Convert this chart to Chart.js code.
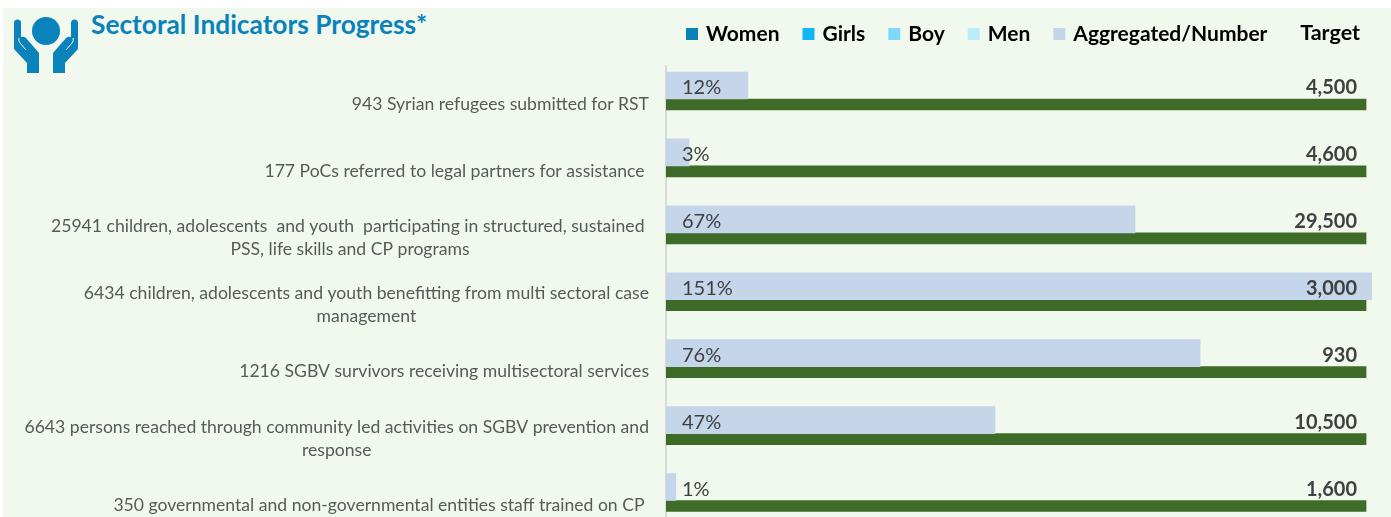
<!DOCTYPE html>
<html>
<head>
<meta charset="utf-8">
<script src="https://cdn.jsdelivr.net/npm/chart.js@4"></script>
<style>
  html, body { margin: 0; height: 517px; overflow: hidden; background: #fff; }
  #panel { position: absolute; left: 3px; top: 8px; width: 1388px; height: 509px; background: #f1f9ef; }
  #icon { position: absolute; left: 0; top: 0; }
  #title { position: absolute; left: 91px; top: 8px; font: bold 26.3px Lato, sans-serif; color: #0a82bb; white-space: nowrap; }
  canvas { position: absolute; left: 0; top: 0; }
</style>
</head>
<body>
<div id="panel"></div>
<svg id="icon" width="92" height="80" viewBox="0 0 92 80">
  <circle cx="46" cy="31" r="14" fill="#0a82bb"/>
  <g id="hand">
    <path d="M14 23a3.5 3.5 0 0 1 7 0V37Q24 36 26 38L39 53V73H27V63L14 49Z" fill="#0a82bb"/>
    <path d="M19 38Q18 41 20 43L26 50" stroke="#f1f9ef" stroke-width="1" fill="none"/>
  </g>
  <use href="#hand" transform="translate(92 0) scale(-1 1)"/>
</svg>
<div id="title">Sectoral Indicators Progress*</div>
<canvas id="indicatorChart" width="1391" height="534"></canvas>
<script>
const categories = [
  ['943 Syrian refugees submitted for RST'],
  ['177 PoCs referred to legal partners for assistance '],
  ['25941 children, adolescents  and youth  participating in structured, sustained ', 'PSS, life skills and CP programs'],
  ['6434 children, adolescents and youth benefitting from multi sectoral case', 'management'],
  ['1216 SGBV survivors receiving multisectoral services'],
  ['6643 persons reached through community led activities on SGBV prevention and', 'response'],
  ['350 governmental and non-governmental entities staff trained on CP ']
];
const progress = [11.7, 3.3, 67, 151, 76.3, 47, 1.4];
const targetShare = [100, 100, 100, 100, 100, 100, 100];
const targets = [4500, 4600, 29500, 3000, 930, 10500, 1600];
const emptySeries = ['Women', 'Girls', 'Boy', 'Men'];
const emptyColors = ['#0a82b8', '#0eb6f5', '#7fd8fb', '#bcebfb'];

// row labels, % labels and target numbers are placed from the scales
const rowText = {
  id: 'rowText',
  afterLayout(chart) {
    // legend sits beside the title, starting at the middle of the page
    chart.legend.left = 688.5 - chart.options.plugins.legend.labels.padding;
    chart.legend.top -= 11;
  },
  afterDatasetsDraw(chart) {
    const { ctx, scales: { y } } = chart;
    ctx.save();
    ctx.textBaseline = 'middle';
    categories.forEach((lines, i) => {
      const p = y.getPixelForValue(i);
      ctx.font = '17.6px Lato, sans-serif';
      ctx.fillStyle = '#595959';
      ctx.textAlign = 'center';
      const w = Math.max(...lines.map(l => ctx.measureText(l).width));
      lines.forEach((l, n) => {
        ctx.fillText(l, 649 - w / 2, p + 5 + (n - (lines.length - 1) / 2) * 23);
      });
      ctx.font = '20px Lato, sans-serif';
      ctx.fillStyle = '#404040';
      ctx.textAlign = 'left';
      ctx.fillText(Math.round(progress[i]) + '%', 682, p - 11);
      ctx.font = 'bold 20px Lato, sans-serif';
      ctx.textAlign = 'right';
      ctx.fillText(targets[i].toLocaleString('en-US'), 1357, p - 11);
    });
    ctx.font = 'bold 21.5px Lato, sans-serif';
    ctx.fillStyle = '#000';
    ctx.fillText('Target', 1360, 33);
    ctx.restore();
  }
};

new Chart(document.getElementById('indicatorChart'), {
  type: 'bar',
  plugins: [rowText],
  data: {
    labels: categories,
    datasets: [
      ...emptySeries.map((name, i) => ({ label: name, data: [], backgroundColor: emptyColors[i] })),
      { label: 'Aggregated/Number', data: progress, backgroundColor: '#c5d5ea', barThickness: 27 },
      { label: 'Target', data: targetShare, backgroundColor: '#3e6b27', barThickness: 11 }
    ]
  },
  options: {
    indexAxis: 'y',
    responsive: false,
    animation: false,
    skipNull: true,
    layout: { padding: { top: 9, right: 19 } },
    scales: {
      x: { min: 0, max: 100.85, display: false, grid: { display: false } },
      y: {
        grid: { display: false, drawTicks: false },
        border: { color: '#d9d9d9', width: 2 },
        ticks: { display: false },
        afterFit(scale) { scale.width = 666; }
      }
    },
    plugins: {
      tooltip: { enabled: false },
      legend: {
        position: 'top',
        align: 'start',
        labels: {
          boxWidth: 7,
          boxHeight: 7,
          padding: 25.5,
          color: '#000',
          font: { family: 'Lato, sans-serif', size: 21, weight: 'bold' },
          // thick outline keeps the swatch 12px wide but closer to its text
          generateLabels: chart => Chart.defaults.plugins.legend.labels.generateLabels(chart)
            .filter(item => item.text !== 'Target')
            .map(item => ({ ...item, lineWidth: 5, strokeStyle: item.fillStyle }))
        }
      }
    }
  }
});
</script>
</body>
</html>
